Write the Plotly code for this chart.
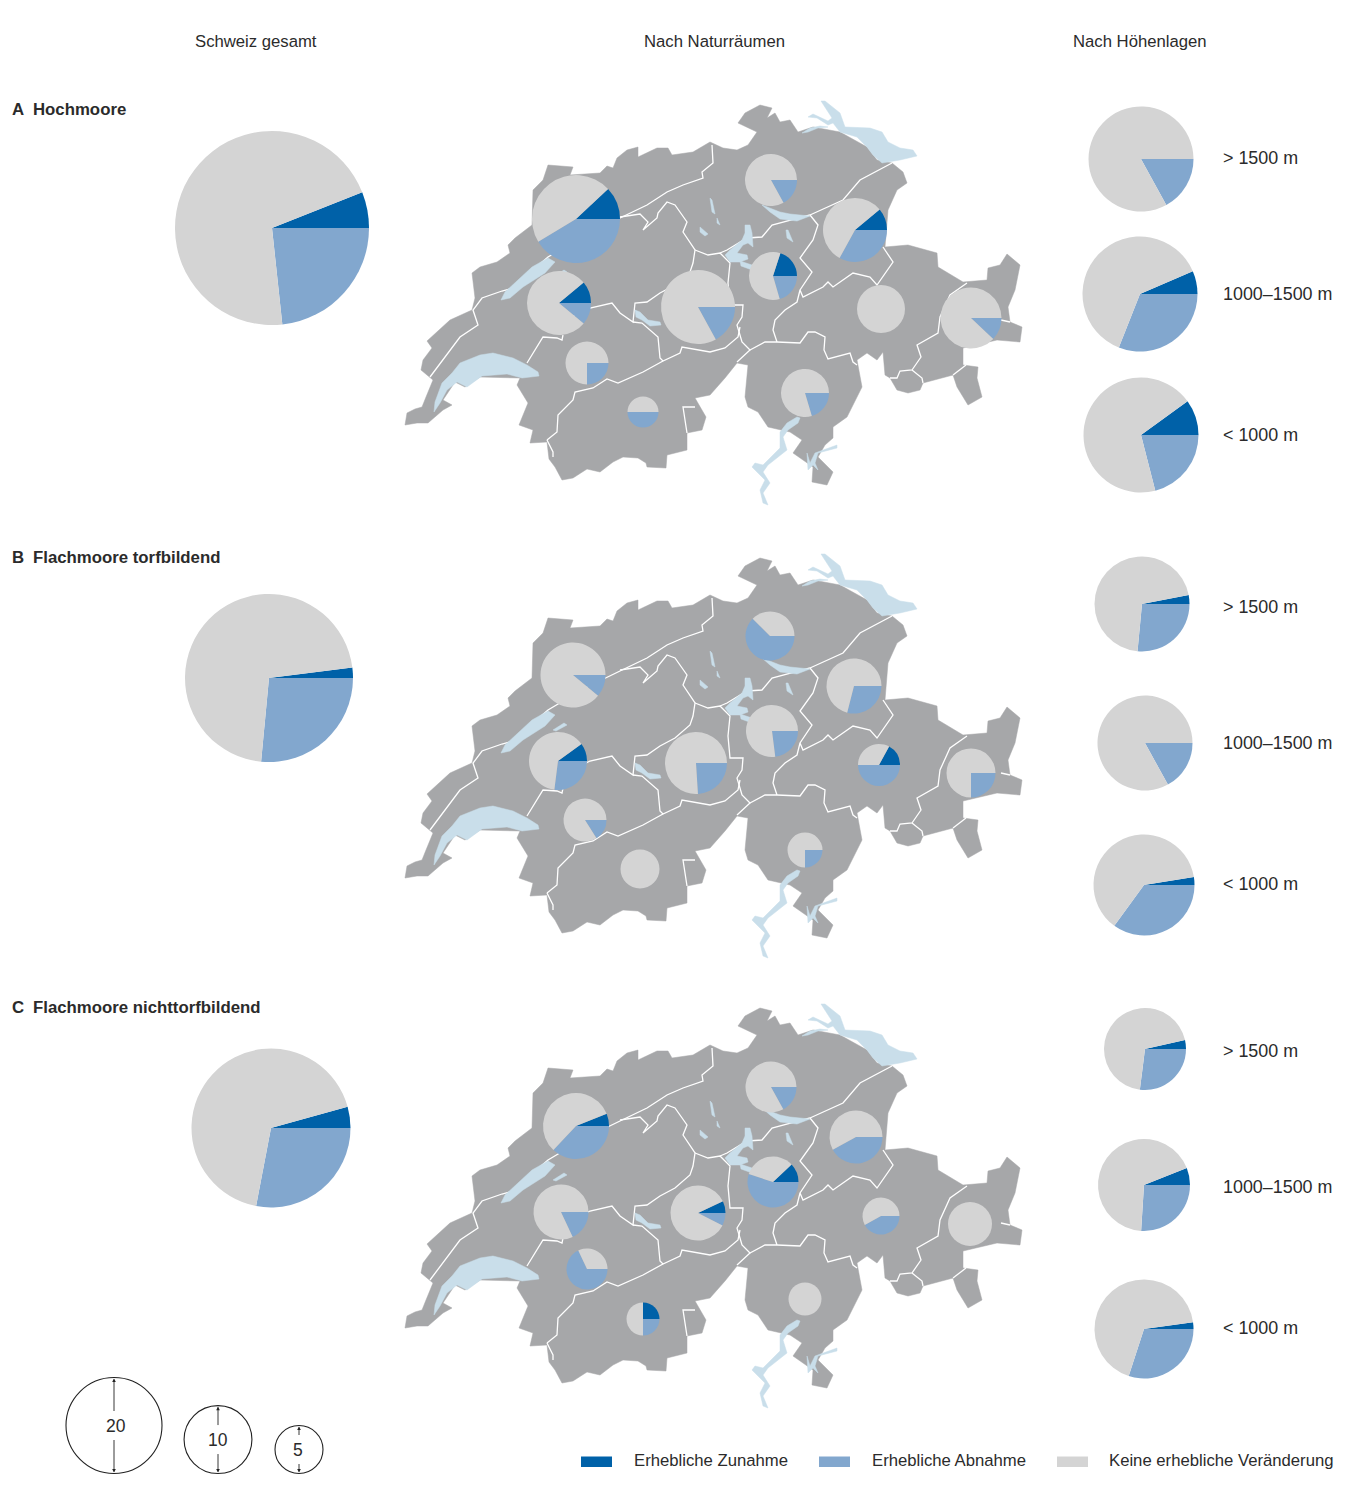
import plotly.graph_objects as go

W, H = 1354, 1501
DARK, LIGHT, GREY = "#0061A8", "#82A7CE", "#D4D4D4"
LAND, LAKE = "#A6A7A9", "#C9DEEA"
TEXT = "#2b2b2b"
FONT = "Liberation Sans"

columns = ["Schweiz gesamt", "Nach Naturräumen", "Nach Höhenlagen"]
panels = ["Hochmoore", "Flachmoore torfbildend", "Flachmoore nichttorfbildend"]
panel_letters = ["A", "B", "C"]
altitudes = ["> 1500 m", "1000–1500 m", "< 1000 m"]
legend_names = ["Erhebliche Zunahme", "Erhebliche Abnahme", "Keine erhebliche Veränderung"]
scale_values = [20, 10, 5]

# Percent of sites with significant increase / decrease. Total, 11 regions, 3 altitudes.
total_up = [6, 2, 4.3]
total_down = [23.3, 26.5, 28]

region_up_a = [12, 0, 11, 20, 0, 0, 0, 11, 0, 0, 0]
region_down_a = [41.4, 17, 33, 20.5, 0, 12, 17, 11, 25, 50, 20.4]
region_up_b = [0, 0, 0, 0, 17, 0, 0, 10, 0, 0, 0]
region_down_b = [11, 62.5, 29, 23, 50, 25, 24, 27, 16, 0, 25]
region_up_c = [6, 0, 0, 12, 0, 0, 7, 0, 0, 25, 0]
region_down_c = [37, 17, 42, 55, 42, 0, 7.5, 18, 68, 25, 0]

alt_up_a = [0, 6.5, 10]
alt_down_a = [17, 31, 21]
alt_up_b = [3, 0, 2.5]
alt_down_b = [26.5, 17, 35]
alt_up_c = [3.5, 6, 2.2]
alt_down_c = [27, 26, 30]

# Placement of pies: centre x, centre y, diameter in page pixels
total_pos = [(272, 228, 194), (269, 678, 168), (271, 1128, 159)]
region_pos_a = [(576, 219, 88), (771, 180, 52), (855, 230, 64), (773, 276, 48), (881, 309, 48),
                (971, 318, 61), (698, 307, 74), (559, 303, 64), (587, 363, 43), (643, 412, 31), (805, 393, 48)]
region_pos_b = [(573, 675, 65), (770, 636, 49), (854, 686, 55), (772, 731, 52), (879, 765, 42),
                (971, 773, 49), (696, 763, 62), (558, 761, 58), (585, 820, 43), (640, 869, 39), (805, 850, 35)]
region_pos_c = [(576, 1126, 66), (771, 1087, 51), (856, 1137, 53), (773, 1182, 51), (881, 1216, 37),
                (970, 1224, 44), (698, 1213, 55), (561, 1212, 55), (587, 1269, 41), (643, 1319, 33), (805, 1299, 33)]
alt_pos_a = [(1141, 159, 105), (1140, 294, 115), (1141, 435, 115)]
alt_pos_b = [(1142, 604, 95), (1145, 743, 95), (1144, 885, 101)]
alt_pos_c = [(1145, 1049, 82), (1144, 1185, 92), (1144, 1329, 99)]
alt_label_y = [[158, 294, 435], [607, 743, 884], [1051, 1187, 1328]]

map_offsets = [0, 453, 903]

# Map geometry (page pixels of the top map)
country = [
    (405, 425), (407, 413), (415, 409), (422, 407), (426, 397), (433, 380), (421, 370), (423, 360), (432, 348), (427, 341),
    (450, 320), (472, 310), (475, 298), (472, 273), (480, 267), (497, 262), (510, 253), (508, 245), (515, 238),
    (532, 225), (533, 190), (543, 180), (548, 165), (573, 167), (570, 175), (600, 173), (607, 166), (613, 168),
    (617, 158), (627, 150), (638, 147), (638, 157), (657, 148), (668, 148), (672, 155), (693, 152), (710, 142),
    (723, 148), (737, 150), (748, 145), (757, 132), (738, 123), (745, 113), (760, 105), (772, 108), (767, 118),
    (775, 113), (780, 122), (790, 120), (798, 132), (813, 127), (840, 132), (867, 147), (877, 160), (892, 163),
    (903, 172), (907, 183), (897, 190), (888, 210), (885, 247), (908, 245), (937, 253), (938, 267), (963, 282),
    (987, 280), (988, 268), (1000, 265), (1007, 254), (1020, 265), (1015, 290), (1008, 307), (1010, 322),
    (1022, 327), (1020, 342), (997, 340), (963, 348), (963, 365), (978, 367), (977, 378), (982, 397), (968, 405),
    (957, 387), (953, 375), (923, 383), (920, 390), (908, 393), (897, 390), (890, 378), (885, 375), (883, 352),
    (877, 360), (867, 353), (857, 360), (862, 387), (847, 417), (833, 427), (833, 438), (825, 445), (818, 457),
    (833, 472), (827, 485), (812, 482), (813, 467), (793, 453), (802, 440), (790, 432), (768, 427), (758, 412),
    (748, 407), (745, 397), (748, 365), (737, 363), (725, 378), (710, 395), (695, 398), (706, 417), (702, 430), (687, 433),
    (687, 450), (667, 455), (666, 468), (647, 467), (646, 463), (638, 458), (623, 457), (613, 462), (600, 472),
    (587, 469), (573, 478), (562, 480), (555, 467), (549, 459),
    (547, 442), (530, 443), (533, 430), (519, 425), (528, 403), (517, 385), (520, 378), (480, 377), (465, 387),
    (455, 382), (443, 400), (452, 405), (443, 410), (428, 423), (417, 423),
]
lakes = [
    [(434, 412), (435, 402), (442, 383), (452, 373), (460, 363), (480, 355), (493, 353), (513, 358), (527, 365),
     (538, 372), (539, 376), (522, 378), (507, 374), (482, 376), (467, 387), (457, 382), (447, 390), (440, 403)],
    [(501, 300), (505, 292), (532, 267), (548, 258), (555, 262), (545, 273), (523, 287), (510, 298)],
    [(553, 277), (564, 270), (567, 272), (556, 278)],
    [(635, 310), (640, 312), (648, 320), (660, 322), (661, 325), (650, 326), (642, 320), (636, 317)],
    [(710, 198), (712, 200), (715, 214), (712, 212)],
    [(717, 218), (720, 225), (717, 223)],
    [(700, 227), (708, 234), (705, 236), (700, 232)],
    [(745, 225), (750, 225), (752, 233), (753, 247), (748, 243), (743, 245), (737, 253), (747, 255), (748, 259),
     (740, 262), (730, 262), (725, 255), (730, 250), (742, 240), (745, 233)],
    [(762, 205), (780, 212), (790, 214), (810, 216), (797, 221), (780, 219), (770, 212)],
    [(786, 230), (788, 230), (793, 242), (787, 238)],
    [(740, 261), (752, 265), (752, 270), (741, 266)],
    [(821, 101), (825, 101), (840, 113), (845, 127), (870, 128), (882, 132), (888, 142), (900, 148), (913, 150),
     (917, 156), (900, 160), (890, 162), (882, 163), (873, 155), (867, 147), (857, 137), (840, 132), (833, 123),
     (828, 125), (817, 118), (808, 117), (813, 114), (828, 121), (832, 118)],
    [(802, 133), (810, 128), (820, 126), (828, 127), (818, 128), (808, 132)],
    [(800, 418), (798, 423), (788, 430), (783, 437), (787, 450), (768, 465), (763, 472), (770, 483), (763, 493),
     (768, 505), (763, 503), (760, 490), (765, 480), (752, 467), (755, 463), (763, 465), (780, 448), (780, 432),
     (787, 423), (797, 417)],
    [(807, 453), (810, 463), (815, 453), (837, 445), (837, 448), (818, 453), (815, 463), (818, 470), (813, 465),
     (808, 470)],
]
borders = [
    [(430, 377), (443, 360), (460, 337), (478, 325), (473, 310), (482, 298), (502, 291), (513, 288), (527, 275),
     (548, 257), (585, 235), (620, 218), (647, 205), (667, 192), (683, 185), (703, 178), (702, 172), (713, 163), (712, 145)],
    [(620, 217), (640, 214), (648, 222), (643, 230), (657, 218), (658, 213), (667, 202), (675, 205), (687, 222),
     (683, 232), (695, 250), (693, 263), (690, 272), (675, 285), (660, 293), (647, 302), (635, 303), (633, 322),
     (620, 313), (612, 303), (590, 308), (570, 318)],
    [(695, 250), (708, 255), (720, 253), (727, 260), (730, 263), (728, 283), (730, 305), (743, 305), (742, 317),
     (737, 325), (742, 342), (750, 350), (737, 362)],
    [(633, 322), (642, 323), (658, 337), (660, 358), (663, 361), (680, 353), (682, 347), (710, 352), (725, 348),
     (738, 337), (740, 327)],
    [(547, 440), (557, 432), (558, 415), (573, 400), (575, 392), (593, 388), (607, 379), (618, 383), (643, 372), (663, 361)],
    [(547, 440), (553, 452), (553, 457)],
    [(687, 433), (683, 407), (695, 407)],
    [(750, 350), (765, 342), (777, 342), (800, 343), (808, 332), (815, 332), (825, 337), (824, 350), (828, 359),
     (850, 353), (853, 362), (857, 365)],
    [(777, 342), (773, 330), (775, 320), (785, 310), (797, 302), (800, 290), (803, 297), (823, 287), (828, 282),
     (833, 287), (853, 273), (870, 277), (877, 285), (893, 262), (883, 247)],
    [(800, 290), (812, 272), (800, 258), (813, 240), (818, 225), (810, 215)],
    [(720, 253), (727, 250), (747, 238), (762, 237), (772, 225), (810, 215), (843, 200), (860, 180), (892, 163)],
    [(967, 283), (950, 295), (940, 317), (938, 333), (917, 345), (921, 357), (912, 370), (900, 371), (897, 378), (890, 378)],
    [(912, 370), (922, 378), (923, 383)],
    [(966, 365), (953, 375)],
    [(1001, 320), (1010, 322)],
    [(527, 363), (537, 347), (543, 337), (557, 338), (562, 340), (563, 335)],
]

fig = go.Figure()


def add_poly(points, dy, color):
    fig.add_trace(go.Scatter(
        x=[p[0] for p in points] + [points[0][0]], y=[p[1] + dy for p in points] + [points[0][1] + dy],
        mode="lines", fill="toself", fillcolor=color, line=dict(color=color, width=0.5),
        hoverinfo="skip", showlegend=False))


for dy in map_offsets:
    add_poly(country, dy, LAND)
    for b in borders:
        fig.add_trace(go.Scatter(
            x=[p[0] for p in b], y=[p[1] + dy for p in b], mode="lines",
            line=dict(color="white", width=1.3), hoverinfo="skip", showlegend=False))
    for lake in lakes:
        add_poly(lake, dy, LAKE)


def add_pie(pos, up, down):
    cx, cy, d = pos
    r = d / 2
    fig.add_trace(go.Pie(
        values=[up, down, 100 - up - down], labels=legend_names, sort=False, direction="clockwise",
        rotation=90 - up * 3.6, textinfo="none", showlegend=False,
        marker=dict(colors=[DARK, LIGHT, GREY], line=dict(width=0)),
        domain=dict(x=[(cx - r) / W, (cx + r) / W], y=[1 - (cy + r) / H, 1 - (cy - r) / H])))


for p, u, v in zip(total_pos, total_up, total_down):
    add_pie(p, u, v)
for positions, ups, downs in [(region_pos_a, region_up_a, region_down_a), (region_pos_b, region_up_b, region_down_b),
                              (region_pos_c, region_up_c, region_down_c), (alt_pos_a, alt_up_a, alt_down_a),
                              (alt_pos_b, alt_up_b, alt_down_b), (alt_pos_c, alt_up_c, alt_down_c)]:
    for p, u, v in zip(positions, ups, downs):
        add_pie(p, u, v)


def label(x, y, text, size=16.7, anchor="left", bold=False):
    fig.add_annotation(x=x, y=y, xref="x", yref="y", text=f"<b>{text}</b>" if bold else text, showarrow=False,
                       xanchor=anchor, yanchor="middle", borderpad=0, borderwidth=0,
                       font=dict(family=FONT, size=size, color=TEXT))


for x, t in zip([256, 714, 1140], columns):
    label(x, 41, t, anchor="center")
for y, letter, t in zip([109, 557, 1007], panel_letters, panels):
    label(12, y, letter, bold=True, size=16.8)
    label(33, y, t, bold=True, size=16.8)
for ys in alt_label_y:
    for y, t in zip(ys, altitudes):
        label(1223, y, t, size=17.9)

# legend swatches
for x0, tx, col, t in zip([581, 819, 1057], [634, 872, 1109], [DARK, LIGHT, GREY], legend_names):
    fig.add_shape(type="rect", x0=x0, x1=x0 + 31, y0=1456.5, y1=1467, xref="x", yref="y",
                  fillcolor=col, line=dict(width=0))
    label(tx, 1460, t)

# size key
shapes_x = [114, 218, 299]
label_shift = [2, 0, -1]
bottom = 1473.5
for x, v, s in zip(shapes_x, scale_values, label_shift):
    r = 48 * (v / 20) ** 0.5
    fig.add_shape(type="circle", x0=x - r, x1=x + r, y0=bottom - 2 * r, y1=bottom, xref="x", yref="y",
                  line=dict(color="#222222", width=1.1), fillcolor="rgba(0,0,0,0)")
    mid = bottom - r
    gap = 13
    for y_from, y_to in [(mid - gap, bottom - 2 * r + 1), (mid + gap, bottom - 1)]:
        fig.add_annotation(x=x, y=y_to, ax=x, ay=y_from, xref="x", yref="y", axref="x", ayref="y", text="",
                           showarrow=True, arrowhead=2, arrowsize=0.8, arrowwidth=0.9, arrowcolor="#222222")
    label(x + s, mid, str(v), anchor="center", size=17.5)

fig.update_layout(
    width=W, height=H, margin=dict(l=0, r=0, t=0, b=0), paper_bgcolor="white", plot_bgcolor="white",
    showlegend=False,
    xaxis=dict(range=[0, W], visible=False, fixedrange=True),
    yaxis=dict(range=[H, 0], visible=False, fixedrange=True),
)
fig.write_html("out.html", config={"displayModeBar": False},
               post_script="document.body.style.margin='0';document.documentElement.style.overflow='hidden';")
